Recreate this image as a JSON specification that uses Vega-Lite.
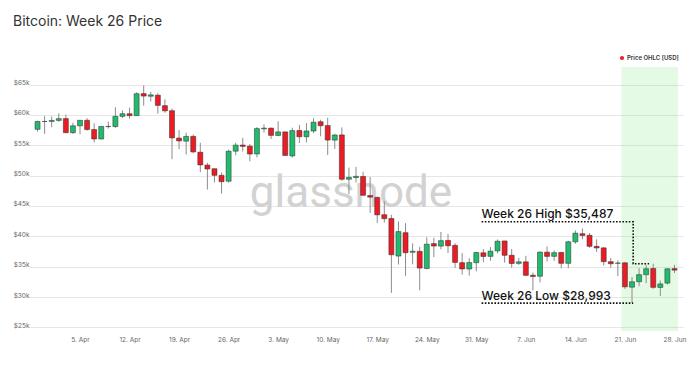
{
  "$schema": "https://vega.github.io/schema/vega-lite/v6.json",
  "width": 654,
  "height": 264,
  "autosize": {"type": "none"},
  "padding": {"left": 29, "top": 67, "right": 17, "bottom": 34},
  "background": "white",
  "title": {"text": "Bitcoin: Week 26 Price", "anchor": "start", "frame": "group", "dx": -16, "offset": 15, "baseline": "alphabetic", "fontSize": 14, "fontWeight": 400, "font": "Inter", "color": "#333333"},
  "config": {"view": {"stroke": null}},
  "datasets": {
    "ohlc": [
      {"d":"2021-03-30","o":57630,"h":59070,"l":57250,"c":58920},
      {"d":"2021-03-31","o":58930,"h":59800,"l":56880,"c":58920},
      {"d":"2021-04-01","o":58930,"h":59740,"l":57980,"c":59100},
      {"d":"2021-04-02","o":59100,"h":60270,"l":58870,"c":59390},
      {"d":"2021-04-03","o":59400,"h":60040,"l":56980,"c":57080},
      {"d":"2021-04-04","o":57080,"h":58720,"l":56870,"c":58210},
      {"d":"2021-04-05","o":58210,"h":59110,"l":56820,"c":59120},
      {"d":"2021-04-06","o":59120,"h":59470,"l":57410,"c":57600},
      {"d":"2021-04-07","o":57600,"h":58600,"l":55470,"c":56040},
      {"d":"2021-04-08","o":56040,"h":58150,"l":55960,"c":58110},
      {"d":"2021-04-09","o":58110,"h":58900,"l":57760,"c":58080},
      {"d":"2021-04-10","o":58080,"h":61270,"l":57890,"c":59770},
      {"d":"2021-04-11","o":59770,"h":60740,"l":59470,"c":60200},
      {"d":"2021-04-12","o":60200,"h":61200,"l":59380,"c":59890},
      {"d":"2021-04-13","o":59890,"h":63740,"l":59870,"c":63500},
      {"d":"2021-04-14","o":63520,"h":64860,"l":61510,"c":63110},
      {"d":"2021-04-15","o":63080,"h":63820,"l":62210,"c":63310},
      {"d":"2021-04-16","o":63260,"h":63590,"l":60220,"c":61570},
      {"d":"2021-04-17","o":61530,"h":62570,"l":60360,"c":60680},
      {"d":"2021-04-18","o":60700,"h":61060,"l":52720,"c":56220},
      {"d":"2021-04-19","o":56190,"h":57520,"l":54370,"c":55720},
      {"d":"2021-04-20","o":55680,"h":57060,"l":53490,"c":56470},
      {"d":"2021-04-21","o":56470,"h":56760,"l":53690,"c":53910},
      {"d":"2021-04-22","o":53860,"h":55410,"l":50580,"c":51760},
      {"d":"2021-04-23","o":51740,"h":52120,"l":47710,"c":51090},
      {"d":"2021-04-24","o":51140,"h":51170,"l":48870,"c":50050},
      {"d":"2021-04-25","o":50050,"h":50510,"l":47040,"c":49000},
      {"d":"2021-04-26","o":49080,"h":54290,"l":48850,"c":54020},
      {"d":"2021-04-27","o":54030,"h":55420,"l":53330,"c":55030},
      {"d":"2021-04-28","o":55040,"h":56230,"l":53960,"c":54820},
      {"d":"2021-04-29","o":54860,"h":55200,"l":52370,"c":53560},
      {"d":"2021-04-30","o":53570,"h":58000,"l":53010,"c":57750},
      {"d":"2021-05-01","o":57710,"h":58450,"l":57070,"c":57830},
      {"d":"2021-05-02","o":57830,"h":57910,"l":56040,"c":56630},
      {"d":"2021-05-03","o":56620,"h":58970,"l":56480,"c":57210},
      {"d":"2021-05-04","o":57210,"h":57210,"l":53240,"c":53330},
      {"d":"2021-05-05","o":53250,"h":57900,"l":52970,"c":57420},
      {"d":"2021-05-06","o":57440,"h":58360,"l":55380,"c":56400},
      {"d":"2021-05-07","o":56410,"h":58640,"l":55470,"c":57360},
      {"d":"2021-05-08","o":57350,"h":59460,"l":56980,"c":58800},
      {"d":"2021-05-09","o":58880,"h":59210,"l":56480,"c":58230},
      {"d":"2021-05-10","o":58250,"h":59520,"l":53400,"c":55860},
      {"d":"2021-05-11","o":55850,"h":56860,"l":54410,"c":56700},
      {"d":"2021-05-12","o":56710,"h":57940,"l":49150,"c":49400},
      {"d":"2021-05-13","o":49400,"h":51330,"l":46980,"c":49720},
      {"d":"2021-05-14","o":49680,"h":51440,"l":48870,"c":49880},
      {"d":"2021-05-15","o":49860,"h":50640,"l":46660,"c":46760},
      {"d":"2021-05-16","o":46720,"h":49760,"l":43860,"c":46460},
      {"d":"2021-05-17","o":46420,"h":46540,"l":42210,"c":43540},
      {"d":"2021-05-18","o":43560,"h":45760,"l":42250,"c":42910},
      {"d":"2021-05-19","o":42940,"h":43550,"l":30680,"c":36960},
      {"d":"2021-05-20","o":36750,"h":42460,"l":35350,"c":40780},
      {"d":"2021-05-21","o":40600,"h":42170,"l":33490,"c":37300},
      {"d":"2021-05-22","o":37370,"h":38830,"l":35380,"c":37540},
      {"d":"2021-05-23","o":37530,"h":38270,"l":31120,"c":34770},
      {"d":"2021-05-24","o":34700,"h":39840,"l":34550,"c":38710},
      {"d":"2021-05-25","o":38800,"h":39740,"l":36580,"c":38400},
      {"d":"2021-05-26","o":38390,"h":40710,"l":37870,"c":39290},
      {"d":"2021-05-27","o":39320,"h":40380,"l":37250,"c":38440},
      {"d":"2021-05-28","o":38510,"h":38860,"l":34780,"c":35700},
      {"d":"2021-05-29","o":35660,"h":37240,"l":33690,"c":34620},
      {"d":"2021-05-30","o":34610,"h":36400,"l":33520,"c":35680},
      {"d":"2021-05-31","o":35660,"h":37470,"l":34240,"c":37330},
      {"d":"2021-06-01","o":37290,"h":37900,"l":35730,"c":36680},
      {"d":"2021-06-02","o":36700,"h":38230,"l":35980,"c":37560},
      {"d":"2021-06-03","o":37600,"h":39480,"l":37190,"c":39190},
      {"d":"2021-06-04","o":39240,"h":39240,"l":35660,"c":36870},
      {"d":"2021-06-05","o":36880,"h":37920,"l":34830,"c":35520},
      {"d":"2021-06-06","o":35540,"h":36440,"l":35290,"c":35800},
      {"d":"2021-06-07","o":35800,"h":36790,"l":33480,"c":33570},
      {"d":"2021-06-08","o":33590,"h":34020,"l":31110,"c":33380},
      {"d":"2021-06-09","o":33420,"h":37530,"l":32400,"c":37390},
      {"d":"2021-06-10","o":37390,"h":38340,"l":35850,"c":36690},
      {"d":"2021-06-11","o":36700,"h":37680,"l":35940,"c":37310},
      {"d":"2021-06-12","o":37340,"h":37440,"l":34730,"c":35550},
      {"d":"2021-06-13","o":35550,"h":39290,"l":34760,"c":39100},
      {"d":"2021-06-14","o":39100,"h":40980,"l":38760,"c":40520},
      {"d":"2021-06-15","o":40430,"h":41300,"l":39510,"c":40140},
      {"d":"2021-06-16","o":40170,"h":40530,"l":38120,"c":38350},
      {"d":"2021-06-17","o":38340,"h":39510,"l":37440,"c":38090},
      {"d":"2021-06-18","o":38100,"h":38200,"l":35200,"c":35820},
      {"d":"2021-06-19","o":35820,"h":36430,"l":34830,"c":35480},
      {"d":"2021-06-20","o":35560,"h":36060,"l":33430,"c":35600},
      {"d":"2021-06-21","o":35640,"h":35720,"l":31330,"c":31680},
      {"d":"2021-06-22","o":31620,"h":33300,"l":28993,"c":32510},
      {"d":"2021-06-23","o":32520,"h":34750,"l":31770,"c":33680},
      {"d":"2021-06-24","o":33680,"h":35290,"l":32290,"c":34660},
      {"d":"2021-06-25","o":34700,"h":35487,"l":31350,"c":31590},
      {"d":"2021-06-26","o":31580,"h":32710,"l":30180,"c":32160},
      {"d":"2021-06-27","o":32290,"h":34690,"l":32070,"c":34650},
      {"d":"2021-06-28","o":34680,"h":35300,"l":33950,"c":34430}
    ],
    "band": [{"d":"2021-06-20T12:00:00Z","d2":"2021-06-28T12:00:00Z"}],
    "mark": [{"d":"2021-04-29T00:00:00Z","p":44870,"label":"glassnode"}],
    "guides": [
      {"g":"high","i":0,"d":"2021-05-31T18:00:00Z","p":42400},
      {"g":"high","i":1,"d":"2021-06-22T04:00:00Z","p":42400},
      {"g":"high","i":2,"d":"2021-06-22T04:00:00Z","p":35487},
      {"g":"high","i":3,"d":"2021-06-24T10:00:00Z","p":35487},
      {"g":"low","i":0,"d":"2021-05-31T18:00:00Z","p":28993},
      {"g":"low","i":1,"d":"2021-06-22T04:00:00Z","p":28993}
    ],
    "notes": [
      {"d":"2021-05-31T18:00:00Z","p":43050,"label":"Week 26 High $35,487"},
      {"d":"2021-05-31T18:00:00Z","p":29590,"label":"Week 26 Low $28,993"}
    ],
    "legend": [{"d":"2021-06-28","p":34430,"series":"Price OHLC [USD]"}]
  },
  "layer": [
    {
      "data": {"name": "band"},
      "mark": {"type": "rect", "fill": "#7be87b", "opacity": 0.2},
      "encoding": {
        "x": {"field": "d", "type": "temporal", "title": null,
          "scale": {"type": "utc", "domain": [{"year":2021,"month":3,"date":29,"hours":12,"utc":true},{"year":2021,"month":6,"date":28,"hours":12,"utc":true}]},
          "axis": {
            "values": [
              {"year":2021,"month":4,"date":5,"utc":true},{"year":2021,"month":4,"date":12,"utc":true},{"year":2021,"month":4,"date":19,"utc":true},{"year":2021,"month":4,"date":26,"utc":true},
              {"year":2021,"month":5,"date":3,"utc":true},{"year":2021,"month":5,"date":10,"utc":true},{"year":2021,"month":5,"date":17,"utc":true},{"year":2021,"month":5,"date":24,"utc":true},{"year":2021,"month":5,"date":31,"utc":true},
              {"year":2021,"month":6,"date":7,"utc":true},{"year":2021,"month":6,"date":14,"utc":true},{"year":2021,"month":6,"date":21,"utc":true},{"year":2021,"month":6,"date":28,"utc":true}
            ],
            "tickCount": 30,
            "labelExpr": "utcFormat(datum.value, '%-d. %b')", "grid": false, "ticks": false, "domain": false, "labelOverlap": false,
            "labelFontSize": 6.5, "labelColor": "#666666", "labelFont": "Inter", "labelPadding": 5, "title": null
          }
        },
        "x2": {"field": "d2"}
      }
    },
    {
      "data": {"name": "mark"},
      "mark": {"type": "text", "align": "left", "baseline": "alphabetic", "font": "Roboto", "fontSize": 44, "color": "#d2d2d2"},
      "encoding": {
        "x": {"field": "d", "type": "temporal", "title": null},
        "y": {"field": "p", "type": "quantitative", "title": null},
        "text": {"field": "label"}
      }
    },
    {
      "data": {"name": "ohlc"},
      "mark": {"type": "rule", "color": "#8c8c8c", "strokeWidth": 1},
      "encoding": {
        "x": {"field": "d", "type": "temporal", "title": null},
        "y": {"field": "l", "type": "quantitative", "title": null,
          "scale": {"domain": [24400, 67900], "nice": false, "zero": false},
          "axis": {"values": [25000,30000,35000,40000,45000,50000,55000,60000,65000], "tickCount": 20,
            "labelExpr": "'$' + (datum.value/1000) + 'k'", "grid": true, "gridColor": "#e6e6e6", "domain": false, "ticks": false, "labelOverlap": false,
            "labelFontSize": 6.5, "labelColor": "#666666", "labelFont": "Inter", "labelPadding": 0, "labelBaseline": "alphabetic", "title": null}
        },
        "y2": {"field": "h"}
      }
    },
    {
      "data": {"name": "ohlc"},
      "mark": {"type": "bar", "size": 5, "stroke": "#2a2a2a", "strokeWidth": 0.5},
      "encoding": {
        "x": {"field": "d", "type": "temporal", "title": null},
        "y": {"field": "o", "type": "quantitative", "title": null},
        "y2": {"field": "c"},
        "color": {"condition": {"test": "datum.c >= datum.o", "value": "#22bb6e"}, "value": "#ec1c24"}
      }
    },
    {
      "data": {"name": "guides"},
      "mark": {"type": "line", "color": "#111111", "strokeWidth": 1.6, "strokeDash": [1.6, 1.6]},
      "encoding": {
        "x": {"field": "d", "type": "temporal", "title": null},
        "y": {"field": "p", "type": "quantitative", "title": null},
        "detail": {"field": "g"},
        "order": {"field": "i"}
      }
    },
    {
      "data": {"name": "notes"},
      "mark": {"type": "text", "align": "left", "baseline": "alphabetic", "font": "Inter", "fontSize": 12, "fontWeight": 500, "color": "#111111"},
      "encoding": {
        "x": {"field": "d", "type": "temporal", "title": null},
        "y": {"field": "p", "type": "quantitative", "title": null},
        "text": {"field": "label"}
      }
    },
    {
      "data": {"name": "legend"},
      "mark": {"type": "point", "filled": true, "opacity": 0},
      "encoding": {
        "x": {"field": "d", "type": "temporal", "title": null},
        "y": {"field": "p", "type": "quantitative", "title": null},
        "color": {"field": "series", "type": "nominal",
          "scale": {"range": ["#e8212f"]},
          "legend": {"orient": "none", "legendX": 590, "legendY": -12, "title": null, "labelFontSize": 6, "labelColor": "#333333", "labelFont": "Inter", "labelFontWeight": 600, "symbolSize": 18, "symbolType": "circle", "symbolOpacity": 1, "labelOffset": 2}
        }
      }
    }
  ]
}
